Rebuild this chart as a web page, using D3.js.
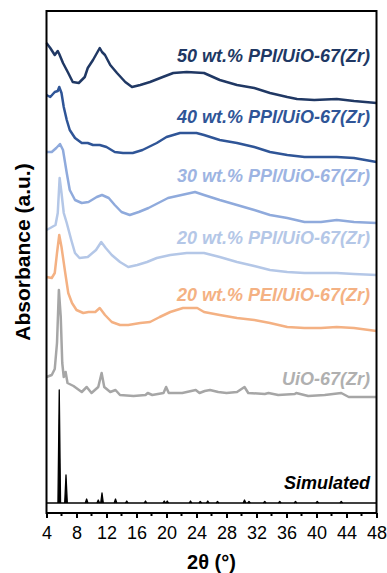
<!DOCTYPE html>
<html>
<head>
<meta charset="utf-8">
<script src="https://cdn.jsdelivr.net/npm/d3@7/dist/d3.min.js"></script>
<style>
    body { margin: 0; background: #fff; }
    text { font-family: Arial, "Liberation Sans", sans-serif; }
</style>
</head>
<body>
<svg id="chart"></svg>
<script>
// 2theta ticks
var xTicks = [4, 8, 12, 16, 20, 24, 28, 32, 36, 40, 44, 48];
var xMinorTicks = [6, 10, 14, 18, 22, 26, 30, 34, 38, 42, 46];

var seriesNames = ["50 wt.% PPI/UiO-67(Zr)", "40 wt.% PPI/UiO-67(Zr)", "30 wt.% PPI/UiO-67(Zr)",
    "20 wt.% PPI/UiO-67(Zr)", "20 wt.% PEI/UiO-67(Zr)", "UiO-67(Zr)", "Simulated"];

// [2theta, absorbance (a.u., stacked)]
var ppi50 = [[4.0, 470], [4.5, 465], [5.1, 458], [5.5, 462], [5.7, 459], [6.2, 450], [6.9, 440], [7.5, 431], [8.3, 430],
    [9.1, 436], [9.5, 445], [10.2, 453], [10.8, 461], [11.1, 465], [11.4, 461], [11.8, 458], [12.5, 448], [13.4, 440], [14.5, 431],
    [15.4, 426], [16.5, 428], [17.8, 431], [19.5, 436], [20.9, 440], [22.7, 441], [25.0, 440], [27.1, 433],
    [29.4, 428], [31.7, 425], [33.8, 420], [36.1, 416], [37.4, 414], [39.7, 413], [42.7, 414], [45.0, 412],
    [48.0, 410]];

var ppi40 = [[4.0, 418], [4.5, 416], [5.1, 421], [5.5, 422], [5.7, 426], [6.0, 420], [6.3, 406], [6.7, 393], [7.1, 383],
    [7.8, 375], [8.7, 370], [9.5, 370], [10.2, 368], [11.1, 368], [12.0, 366], [13.1, 361], [14.2, 360],
    [15.5, 360], [16.8, 363], [18.7, 370], [20.0, 376], [21.8, 380], [24.0, 380], [25.0, 378], [27.1, 373],
    [29.4, 370], [31.7, 366], [33.8, 361], [36.1, 358], [38.4, 356], [40.6, 356], [42.7, 356], [45.0, 355],
    [48.0, 351]];

var ppi30 = [[4.0, 361], [4.7, 361], [5.3, 365], [5.8, 369], [6.2, 363], [6.7, 340], [7.1, 323], [7.8, 313],
    [8.7, 310], [9.6, 311], [10.7, 316], [11.4, 318], [12.3, 315], [13.1, 308], [14.0, 301], [15.1, 298],
    [16.3, 301], [17.6, 305], [18.9, 310], [20.2, 315], [22.0, 318], [23.8, 321], [25.0, 318], [27.1, 313],
    [29.4, 308], [31.7, 303], [33.8, 298], [36.1, 295], [38.4, 291], [40.6, 291], [42.7, 293], [45.0, 291],
    [48.0, 290]];

var ppi20 = [[4.0, 283], [4.5, 285], [5.2, 288], [5.5, 300], [5.75, 335], [6.0, 320], [6.3, 300], [6.7, 290],
    [7.3, 273], [7.8, 260], [8.4, 255], [9.5, 256], [10.6, 263], [11.3, 271], [11.9, 265], [12.7, 258],
    [13.8, 251], [14.9, 246], [16.1, 248], [17.4, 251], [18.7, 255], [20.5, 258], [22.7, 260], [25.0, 260],
    [27.1, 256], [29.4, 251], [31.7, 247], [33.8, 243], [36.1, 241], [38.4, 240], [40.6, 240], [42.7, 240],
    [45.0, 239], [48.0, 238]];

var pei20 = [[4.0, 236], [4.7, 235], [5.1, 240], [5.4, 260], [5.7, 278], [6.0, 266], [6.5, 240], [6.9, 220],
    [7.4, 210], [8.0, 203], [8.9, 200], [9.6, 201], [10.5, 201], [11.1, 205], [11.8, 198], [12.7, 191],
    [13.8, 188], [14.9, 188], [16.5, 190], [17.8, 191], [19.1, 196], [20.5, 201], [22.2, 205], [24.1, 205],
    [25.0, 201], [27.1, 198], [29.4, 195], [31.7, 193], [33.8, 190], [36.1, 186], [38.4, 185], [40.6, 185],
    [42.7, 186], [45.0, 185], [48.0, 182]];

var uio67 = [[4.0, 136], [4.7, 138], [5.1, 144], [5.4, 170], [5.65, 223], [5.9, 196], [6.1, 150], [6.3, 136],
    [6.55, 141], [6.8, 130], [7.6, 127], [8.7, 121], [9.36, 126], [10.0, 120], [10.9, 126], [11.35, 140],
    [11.7, 126], [12.5, 121], [13.2, 123], [13.8, 118], [15.6, 117], [17.2, 118], [17.5, 120], [18.1, 118],
    [19.6, 120], [19.95, 126], [20.3, 120], [22.1, 120], [23.9, 123], [24.4, 120], [25.1, 122], [25.8, 123],
    [26.9, 121], [28.0, 120], [29.4, 121], [30.4, 126], [30.9, 120], [33.1, 119], [33.6, 120], [34.9, 118],
    [37.1, 119], [37.3, 120], [38.9, 117], [41.1, 118], [43.3, 120], [44.3, 116], [46.4, 116], [48.0, 116]];

// simulated pattern: baseline level and reflections [2theta, height above baseline]
var simBaseline = 10;
var simPeaks = [[5.7, 113], [6.6, 28], [9.35, 4], [10.9, 3], [11.4, 10], [13.2, 4], [14.7, 2], [17.2, 2],
    [19.7, 2], [20.1, 2], [23.2, 2], [24.5, 1.5], [25.5, 2], [26.8, 1.5], [30.4, 3], [31.0, 1.5],
    [33.1, 1.5], [35.1, 1.5], [37.2, 1.5], [40.1, 1.5], [43.3, 1.5]];

var seriesData = [ppi50, ppi40, ppi30, ppi20, pei20, uio67];
var lineColors = ["#203864", "#2f5597", "#8faadc", "#b4c7e7", "#f4b183", "#a6a6a6"];
var labelColors = ["#203864", "#2f5597", "#9db4e2", "#b4c7e7", "#f4b183", "#b0b0b0", "#000000"];
var labelBaseline = [62, 123, 182, 244, 301, 385, 489];

var width = 387,
    height = 573,
    margin = { top: 11, right: 10.5, bottom: 60, left: 46.5 };

var svg = d3.select('#chart')
    .attr('width', width)
    .attr('height', height);

var x = d3.scaleLinear()
    .domain([4, 48])
    .range([margin.left, width - margin.right]);

var y = d3.scaleLinear()
    .domain([0, 502])
    .range([height - margin.bottom, margin.top]);

var line = d3.line()
    .x(function (d) { return x(d[0]); })
    .y(function (d) { return y(d[1]); });

var plot = svg.append('g');

// simulated baseline + sticks
plot.append('path')
    .attr('d', line([[4, simBaseline], [48, simBaseline]]))
    .attr('fill', 'none')
    .attr('stroke', '#000')
    .attr('stroke-width', 1.6);

plot.selectAll('.stick')
    .data(simPeaks).enter()
    .append('path')
    .attr('class', 'stick')
    .attr('d', function (d) {
        var px = x(d[0]);
        return 'M' + (px - 1.3) + ',' + y(simBaseline) + 'L' + px + ',' + y(simBaseline + d[1]) +
             'L' + (px + 1.3) + ',' + y(simBaseline);
    })
    .attr('fill', '#000')
    .attr('stroke', '#000')
    .attr('stroke-width', 1.3)
    .attr('stroke-linejoin', 'round');

// measured patterns, bottom one drawn first
for (var i = seriesData.length - 1; i >= 0; i--) {
    plot.append('path')
        .attr('d', line(seriesData[i]))
        .attr('fill', 'none')
        .attr('stroke', lineColors[i])
        .attr('stroke-width', 2.5)
        .attr('stroke-linejoin', 'round');
}

// labels
svg.selectAll('.series-label')
    .data(seriesNames).enter()
    .append('text')
    .attr('class', 'series-label')
    .attr('x', 370)
    .attr('y', function (d, i) { return labelBaseline[i]; })
    .attr('text-anchor', 'end')
    .style('font-size', '18px')
    .style('font-weight', 'bold')
    .style('font-style', 'italic')
    .style('fill', function (d, i) { return labelColors[i]; })
    .text(function (d) { return d; });

// frame
svg.append('rect')
    .attr('x', margin.left)
    .attr('y', margin.top)
    .attr('width', width - margin.right - margin.left)
    .attr('height', height - margin.bottom - margin.top)
    .attr('fill', 'none')
    .attr('stroke', '#000')
    .attr('stroke-width', 2);

// x axis
var xAxis = d3.axisBottom(x)
    .tickValues(xTicks)
    .tickSize(5)
    .tickSizeOuter(0)
    .tickPadding(8);

var gx = svg.append('g')
    .attr('transform', 'translate(0,' + (height - margin.bottom) + ')')
    .call(xAxis);
gx.select('.domain').remove();
gx.selectAll('.tick line').attr('stroke-width', 2);
gx.selectAll('.tick text')
    .style('font-size', '18px')
    .style('fill', '#000');

gx.selectAll('.minor')
    .data(xMinorTicks).enter()
    .append('line')
    .attr('class', 'minor')
    .attr('x1', function (d) { return x(d); })
    .attr('x2', function (d) { return x(d); })
    .attr('y1', 0)
    .attr('y2', 3)
    .attr('stroke', '#000')
    .attr('stroke-width', 2);

svg.append('text')
    .attr('x', (margin.left + width - margin.right) / 2)
    .attr('y', 569)
    .attr('text-anchor', 'middle')
    .style('font-size', '20px')
    .style('font-weight', 'bold')
    .text('2θ (°)');

svg.append('text')
    .attr('transform', 'translate(30,252)rotate(-90)')
    .attr('text-anchor', 'middle')
    .style('font-size', '21px')
    .style('font-weight', 'bold')
    .text('Absorbance (a.u.)');
</script>
</body>
</html>
